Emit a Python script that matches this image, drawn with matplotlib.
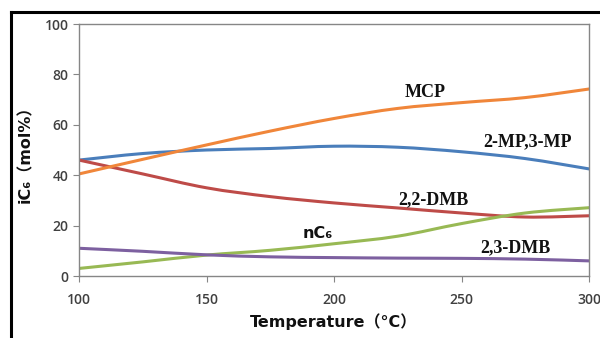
import numpy as np
import matplotlib
matplotlib.use("Agg")
import matplotlib.pyplot as plt
from matplotlib.path import Path
from matplotlib.patches import PathPatch
from matplotlib.lines import Line2D

# ---- data ----
temps = [100, 125, 150, 175, 200, 225, 250, 275, 300]
mcp = [40.5, 46.3, 52, 57.5, 62.5, 66.5, 68.8, 70.8, 74.2]
mp = [46, 48.6, 50, 50.6, 51.5, 51.1, 49.3, 46.6, 42.5]
dmb22 = [46, 40.5, 35, 31.5, 29, 27, 25, 23.4, 23.9]
nc6 = [3, 5.6, 8.3, 10.2, 12.8, 15.8, 20.8, 25, 27.1]
dmb23 = [11, 9.8, 8.4, 7.6, 7.3, 7.1, 7.0, 6.7, 6.0]

series = [
    ("2-MP,3-MP", mp, "#4A7EBB"),
    ("2,2-DMB", dmb22, "#BE4B48"),
    ("nC6", nc6, "#98B954"),
    ("2,3-DMB", dmb23, "#7D60A0"),
    ("MCP", mcp, "#F0863A"),
]

xticks = [100, 150, 200, 250, 300]
yticks = [0, 20, 40, 60, 80, 100]


def smooth_path(xs, ys, t=1/6):
    """Excel-like smoothed line: cubic Bezier through the points (Catmull-Rom)."""
    xs = np.asarray(xs, float)
    ys = np.asarray(ys, float)
    n = len(xs)
    verts = [(xs[0], ys[0])]
    codes = [Path.MOVETO]
    for i in range(n - 1):
        p0 = np.array([xs[max(i - 1, 0)], ys[max(i - 1, 0)]])
        p1 = np.array([xs[i], ys[i]])
        p2 = np.array([xs[i + 1], ys[i + 1]])
        p3 = np.array([xs[min(i + 2, n - 1)], ys[min(i + 2, n - 1)]])
        c1 = p1 + (p2 - p0) * t
        c2 = p2 - (p3 - p1) * t
        verts += [tuple(c1), tuple(c2), tuple(p2)]
        codes += [Path.CURVE4] * 3
    return Path(verts, codes)


fig = plt.figure(figsize=(6.0, 3.38), dpi=100)
ax = fig.add_axes([79 / 600, 1 - 276 / 338, (589 - 79) / 600, (276 - 24) / 338])

for name, vals, col in series:
    ax.add_patch(PathPatch(smooth_path(temps, vals), fill=False, edgecolor=col,
                           lw=2.2, capstyle="round", joinstyle="round"))

ax.set_xlim(100, 300)
ax.set_ylim(0, 100)
ax.set_xticks(xticks)
ax.set_yticks(yticks)
ax.tick_params(axis="both", direction="out", length=4, width=0.8, color="#868686",
               labelsize=10, labelcolor="#404040")
ax.tick_params(axis="x", pad=8)
for lab in ax.get_xticklabels() + ax.get_yticklabels():
    lab.set_fontweight("semibold")
    lab.set_family(["Open Sans", "DejaVu Sans"])
for s in ax.spines.values():
    s.set_color("#868686")
    s.set_linewidth(1.0)

lab_family = ["DejaVu Sans", "Noto Sans CJK SC"]
ax.set_xlabel("Temperature（°C）", fontsize=11.5, fontweight="bold",
              family=lab_family, color="#111111", labelpad=5)
ax.set_ylabel("iC\u2086（mol%）", fontsize=11.5, fontweight="bold",
              family=lab_family, color="#111111", labelpad=8)

serif = ["Liberation Serif", "DejaVu Serif"]
fs = 13
ax.text(235.7, 73, "MCP", fontsize=fs, fontweight="bold", family=serif,
        ha="center", va="center", color="#111111")
ax.text(276, 53.2, "2-MP,3-MP", fontsize=fs, fontweight="bold", family=serif,
        ha="center", va="center", color="#111111")
ax.text(238.8, 30.2, "2,2-DMB", fontsize=fs, fontweight="bold", family=serif,
        ha="center", va="center", color="#111111")
ax.text(271, 11.1, "2,3-DMB", fontsize=fs, fontweight="bold", family=serif,
        ha="center", va="center", color="#111111")
ax.text(193.7, 17, "nC\u2086", fontsize=11.5, fontweight="semibold",
        family=["DejaVu Sans"], ha="center", va="center", color="#111111")

# outer black frame (left and top edges)
fig.add_artist(Line2D([10.5 / 600, 10.5 / 600], [0, 1 - 12 / 338],
                      transform=fig.transFigure, color="black", lw=2.2))
fig.add_artist(Line2D([10.5 / 600, 1], [1 - 12 / 338, 1 - 12 / 338],
                      transform=fig.transFigure, color="black", lw=2.2))

fig.savefig("out.png", dpi=100)
